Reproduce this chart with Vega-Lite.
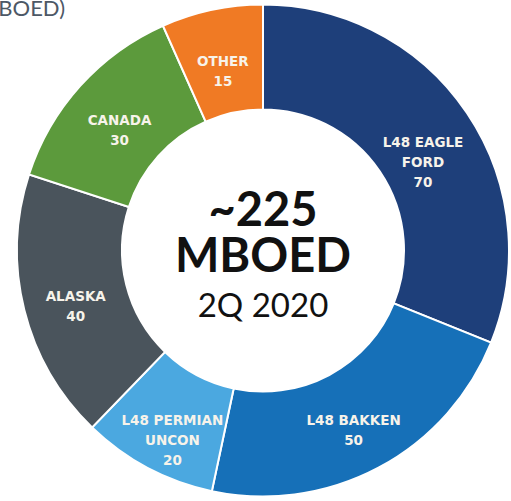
{
  "$schema": "https://vega.github.io/schema/vega-lite/v6.json",
  "width": 496,
  "height": 501,
  "padding": {"left": 15, "top": 0, "right": 0, "bottom": 0},
  "autosize": {"type": "none"},
  "background": "white",
  "config": {"view": {"stroke": null}},
  "title": {"text": "(MBOED)", "anchor": "start", "frame": "group", "font": "Lato", "fontSize": 22, "fontWeight": "normal", "color": "#4d5866", "baseline": "top", "offset": 0, "dx": -43, "dy": 21},
  "datasets": {
    "segments": [
      {"idx": 1, "name": "L48 EAGLE\nFORD", "value": 70},
      {"idx": 2, "name": "L48 BAKKEN", "value": 50},
      {"idx": 3, "name": "L48 PERMIAN\nUNCON", "value": 20},
      {"idx": 4, "name": "ALASKA", "value": 40},
      {"idx": 5, "name": "CANADA", "value": 30},
      {"idx": 6, "name": "OTHER", "value": 15}
    ],
    "center": [{"total": "~225", "unit": "MBOED", "period": "2Q 2020"}]
  },
  "layer": [
    {
      "data": {"name": "segments"},
      "mark": {"type": "arc", "innerRadius": 141, "outerRadius": 246, "stroke": "white", "strokeWidth": 2},
      "encoding": {
        "theta": {"field": "value", "type": "quantitative", "stack": true},
        "order": {"field": "idx", "type": "quantitative"},
        "color": {
          "field": "name", "type": "nominal", "legend": null,
          "scale": {
            "domain": ["L48 EAGLE\nFORD", "L48 BAKKEN", "L48 PERMIAN\nUNCON", "ALASKA", "CANADA", "OTHER"],
            "range": ["#1e3f7a", "#1670b8", "#4ba8e0", "#4a545c", "#5c9a3c", "#f07a24"]
          }
        }
      }
    },
    {
      "data": {"name": "segments"},
      "transform": [{"calculate": "datum.name + '\\n' + datum.value", "as": "label"}],
      "mark": {"type": "text", "radius": 193, "font": "DejaVu Sans", "fontSize": 13.5, "fontWeight": "bold", "fill": "#f7f3ea", "lineBreak": "\n", "lineHeight": 20, "baseline": "middle", "align": "center"},
      "encoding": {
        "theta": {"field": "value", "type": "quantitative", "stack": true},
        "order": {"field": "idx", "type": "quantitative"},
        "text": {"field": "label", "type": "nominal"}
      }
    },
    {
      "data": {"name": "center"},
      "mark": {"type": "text", "font": "Lato", "fontSize": 47, "fontWeight": "bold", "fill": "#111111", "baseline": "alphabetic", "align": "center", "dy": -25},
      "encoding": {"text": {"field": "total", "type": "nominal"}}
    },
    {
      "data": {"name": "center"},
      "mark": {"type": "text", "font": "Lato", "fontSize": 47, "fontWeight": "bold", "fill": "#111111", "baseline": "alphabetic", "align": "center", "dy": 21},
      "encoding": {"text": {"field": "unit", "type": "nominal"}}
    },
    {
      "data": {"name": "center"},
      "mark": {"type": "text", "font": "Lato", "fontSize": 33, "fontWeight": "normal", "fill": "#111111", "baseline": "alphabetic", "align": "center", "dy": 66},
      "encoding": {"text": {"field": "period", "type": "nominal"}}
    }
  ]
}
